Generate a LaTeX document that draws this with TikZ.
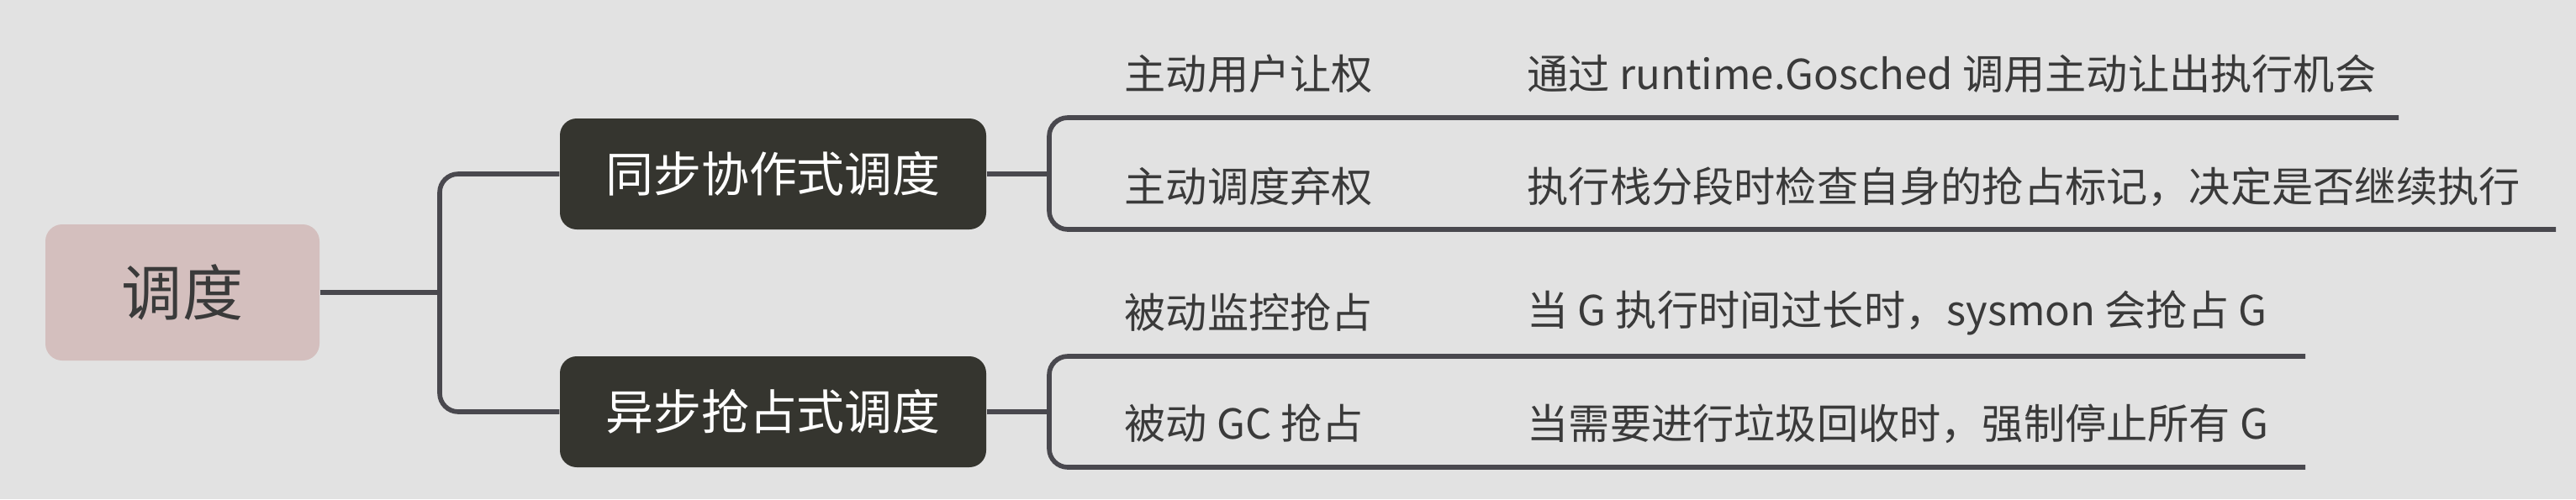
\documentclass[tikz,border=0pt]{standalone}
\usepackage{fontspec}
\setmainfont{Noto Sans CJK SC}
\definecolor{BgGray}{HTML}{E2E2E2}
\definecolor{RootPink}{HTML}{D4BFBE}
\definecolor{TopicDark}{HTML}{35352F}
\definecolor{LineGray}{HTML}{49484E}
\definecolor{TextGray}{HTML}{3A3A3A}
\usetikzlibrary{positioning, calc}

\begin{document}
\begin{tikzpicture}[
    rootbox/.style={fill=RootPink, rounded corners=0.2cm, minimum width=3.26cm, minimum height=1.62cm, text=TextGray, font=\fontsize{20.5}{24}\selectfont},
    topicbox/.style={fill=TopicDark, rounded corners=0.2cm, minimum width=5.07cm, minimum height=1.32cm, text=white, font=\fontsize{16.2}{20}\selectfont},
    leaflabel/.style={anchor=west, inner sep=0pt, text=TextGray, font=\fontsize{14}{17}\selectfont},
    branch/.style={draw=LineGray, line width=1.6pt, rounded corners=0.22cm}
]
\fill[BgGray] (0,0) rectangle (30.64,5.94);
\useasboundingbox (0,0) rectangle (30.64,5.94);

% topics
\node[rootbox] (sched) at (2.17,2.46) {调度};
\node[topicbox] (coop) at (9.195,3.87) {同步协作式调度};
\node[topicbox] (preempt) at (9.195,1.04) {异步抢占式调度};

% leaves
\node[leaflabel] (yield) at (13.37,5.06) {主动用户让权};
\node[leaflabel] (yielddesc) at (18.16,5.06) {通过 runtime.Gosched 调用主动让出执行机会};
\node[leaflabel] (giveup) at (13.37,3.72) {主动调度弃权};
\node[leaflabel] (giveupdesc) at (18.16,3.72) {执行栈分段时检查自身的抢占标记，决定是否继续执行};
\node[leaflabel] (sysmon) at (13.37,2.22) {被动监控抢占};
\node[leaflabel] (sysmondesc) at (18.16,2.22) {当 G 执行时间过长时，sysmon 会抢占 G};
\node[leaflabel] (gc) at (13.37,0.90) {被动 GC 抢占};
\node[leaflabel] (gcdesc) at (18.16,0.90) {当需要进行垃圾回收时，强制停止所有 G};

% fork points and underline ends
\coordinate (trunk) at (5.23,2.46);
\coordinate (coopfork) at (12.48,3.87);
\coordinate (preemptfork) at (12.48,1.04);
\coordinate (yieldend) at (28.53,4.54);
\coordinate (giveupend) at (30.40,3.21);
\coordinate (sysmonend) at (27.42,1.70);
\coordinate (gcend) at (27.42,0.38);

% connectors
\draw[branch] (sched.east) -- (trunk);
\draw[branch] (trunk) |- (coop.west);
\draw[branch] (trunk) |- (preempt.west);
\draw[branch] (coop.east) -- (coopfork);
\draw[branch] (coopfork) |- (yieldend);
\draw[branch] (coopfork) |- (giveupend);
\draw[branch] (preempt.east) -- (preemptfork);
\draw[branch] (preemptfork) |- (sysmonend);
\draw[branch] (preemptfork) |- (gcend);
\end{tikzpicture}
\end{document}
